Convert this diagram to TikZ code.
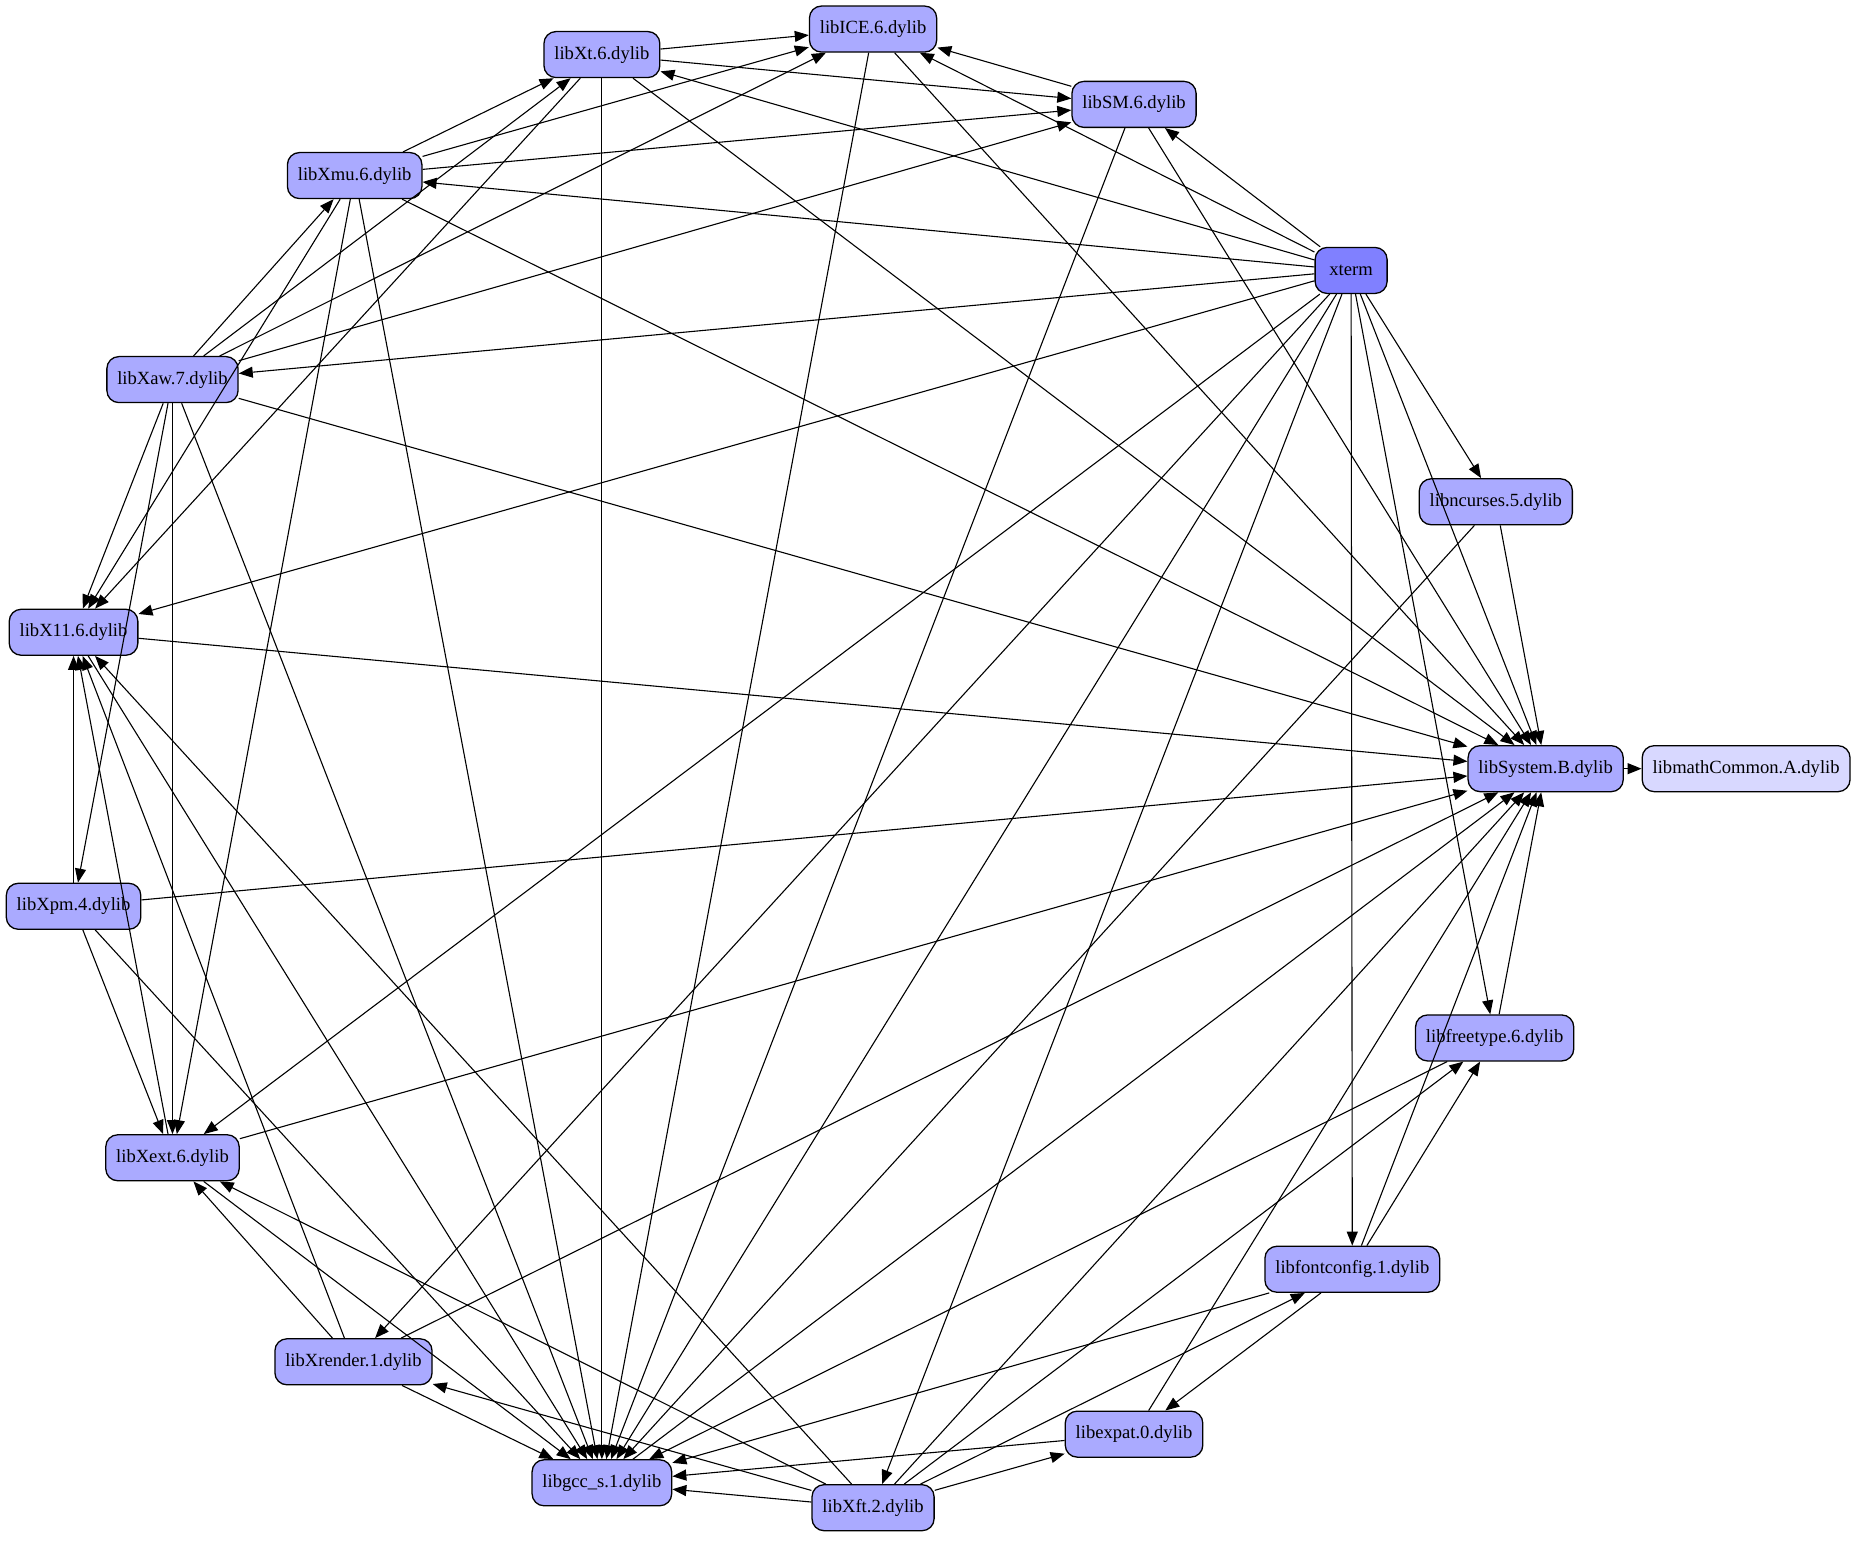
\documentclass[tikz,border=0pt]{standalone}
\usepackage{fontspec}
\setmainfont{Liberation Serif}
\usetikzlibrary{arrows.meta}
\definecolor{libfill}{RGB}{170,170,255}
\definecolor{rootfill}{RGB}{128,128,255}
\definecolor{leaffill}{RGB}{216,216,255}
\begin{document}
\begin{tikzpicture}[x=0.5931pt,y=-0.5931pt,
  lib/.style={draw=black, line width=0.65pt, fill=libfill, rounded corners=6pt,
    inner xsep=5.2pt, inner ysep=0pt, minimum height=23pt, minimum width=36pt,
    font=\fontsize{9.3}{11}\selectfont},
  rootlib/.style={lib, fill=rootfill},
  leaflib/.style={lib, fill=leaffill},
  dep/.style={-{Triangle[length=7pt,width=5.5pt]}, line width=0.55pt}]
\useasboundingbox (0,0) rectangle (1568,1299);
% nodes
\node[lib] (ICE) at (736,24.5) {libICE.6.dylib};
\node[lib] (Xt) at (507.4,46) {libXt.6.dylib};
\node[lib] (SM) at (956,88) {libSM.6.dylib};
\node[lib] (Xmu) at (299,148) {libXmu.6.dylib};
\node[rootlib] (xterm) at (1139,228) {xterm};
\node[lib] (Xaw) at (145.4,320) {libXaw.7.dylib};
\node[lib] (ncurses) at (1261,423) {libncurses.5.dylib};
\node[lib] (X11) at (62,533) {libX11.6.dylib};
\node[lib] (System) at (1303,648) {libSystem.B.dylib};
\node[leaflib] (math) at (1472,648) {libmathCommon.A.dylib};
\node[lib] (Xpm) at (62,764) {libXpm.4.dylib};
\node[lib] (freetype) at (1260,875) {libfreetype.6.dylib};
\node[lib] (Xext) at (145.4,976) {libXext.6.dylib};
\node[lib] (fontconfig) at (1140,1070) {libfontconfig.1.dylib};
\node[lib] (Xrender) at (298,1148) {libXrender.1.dylib};
\node[lib] (expat) at (956,1209) {libexpat.0.dylib};
\node[lib] (gcc) at (507.4,1250) {libgcc\_s.1.dylib};
\node[lib] (Xft) at (736,1271) {libXft.2.dylib};
% edges
\foreach \t in {SM,ICE,Xt,Xmu,Xaw,X11,Xext,Xrender,gcc,Xft,fontconfig,freetype,ncurses,System}
  \draw[dep] (xterm) -- (\t);
\foreach \t in {ICE,SM,X11,gcc,System}
  \draw[dep] (Xt) -- (\t);
\foreach \t in {Xt,ICE,SM,X11,Xext,gcc,System}
  \draw[dep] (Xmu) -- (\t);
\foreach \t in {Xt,ICE,SM,Xmu,X11,Xpm,Xext,gcc,System}
  \draw[dep] (Xaw) -- (\t);
\foreach \t in {ICE,gcc,System}
  \draw[dep] (SM) -- (\t);
\foreach \t in {gcc,System}
  \draw[dep] (ICE) -- (\t);
\foreach \t in {gcc,System}
  \draw[dep] (X11) -- (\t);
\foreach \t in {X11,Xext,gcc,System}
  \draw[dep] (Xpm) -- (\t);
\foreach \t in {X11,gcc,System}
  \draw[dep] (Xext) -- (\t);
\foreach \t in {Xext,X11,gcc,System}
  \draw[dep] (Xrender) -- (\t);
\foreach \t in {gcc,Xrender,Xext,X11,expat,fontconfig,freetype,System}
  \draw[dep] (Xft) -- (\t);
\foreach \t in {freetype,expat,gcc,System}
  \draw[dep] (fontconfig) -- (\t);
\foreach \t in {gcc,System}
  \draw[dep] (freetype) -- (\t);
\foreach \t in {gcc,System}
  \draw[dep] (expat) -- (\t);
\foreach \t in {gcc,System}
  \draw[dep] (ncurses) -- (\t);
\draw[dep] (gcc) -- (System);
\draw[dep] (System) -- (math);
\end{tikzpicture}
\end{document}
